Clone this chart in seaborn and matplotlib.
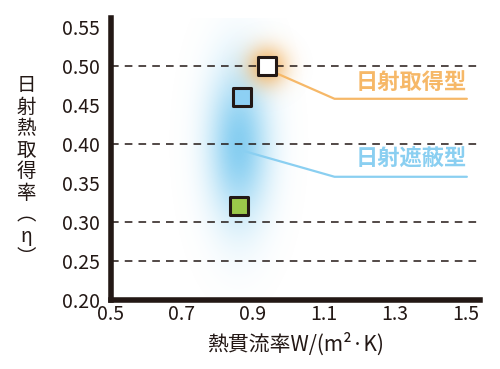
import numpy as np
import pandas as pd
import matplotlib
matplotlib.use("Agg")
import matplotlib.pyplot as plt
from matplotlib.colors import to_rgb
import seaborn as sns

# data
u_values = [0.94, 0.87, 0.86]
eta_values = [0.50, 0.46, 0.32]
kinds = ["gain_white", "shade_blue", "shade_green"]
face_colors = ["#FFFFFF", "#8DD0F4", "#9BC84A"]
x_ticks = [0.5, 0.7, 0.9, 1.1, 1.3, 1.5]
y_ticks = [0.20, 0.25, 0.30, 0.35, 0.40, 0.45, 0.50, 0.55]
grid_levels = [0.25, 0.30, 0.40, 0.50]

gain_label = "日射取得型"
shade_label = "日射遮蔽型"
gain_leader_x = [0.96, 1.13, 1.503]
gain_leader_y = [0.492, 0.458, 0.458]
shade_leader_x = [0.867, 1.13, 1.503]
shade_leader_y = [0.392, 0.358, 0.358]

INK = "#231815"
ORANGE = "#F6B868"
BLUE = "#8ACFF1"

sns.set_theme(style="white")
plt.rcParams["font.family"] = ["Noto Sans CJK JP", "DejaVu Sans"]

df = pd.DataFrame({"U": u_values, "eta": eta_values, "kind": kinds, "face": face_colors})

fig = plt.figure(figsize=(5, 3.69), dpi=100)
ax = fig.add_axes([0.222, 0.187, 0.738, 0.764])
xlim = (0.5, 1.54)
ylim = (0.2, 0.5615)
ax.set_xlim(*xlim)
ax.set_ylim(*ylim)


def glow(cx, cy, sx, sy, color, peak):
    xs = np.linspace(xlim[0], xlim[1], 400)
    ys = np.linspace(ylim[0], ylim[1], 300)
    X, Y = np.meshgrid(xs, ys)
    a = peak * np.exp(-(((X - cx) / sx) ** 2 + ((Y - cy) / sy) ** 2) / 2)
    img = np.zeros(X.shape + (4,))
    img[..., :3] = to_rgb(color)
    img[..., 3] = a
    ax.imshow(img, extent=(xlim[0], xlim[1], ylim[0], ylim[1]), origin="lower",
              aspect="auto", zorder=0.5, interpolation="bilinear")


glow(0.86, 0.40, 0.06, 0.068, "#72C6EF", 0.85)
glow(0.94, 0.50, 0.04, 0.018, "#F5A94A", 0.8)

for lv in grid_levels:
    ax.axhline(lv, color=INK, lw=1.1, ls=(0, (5, 4)), zorder=1)

ax.plot(gain_leader_x, gain_leader_y, color=ORANGE, lw=1.6, zorder=2)
ax.plot(shade_leader_x, shade_leader_y, color=BLUE, lw=1.6, zorder=2)

for _, row in df.iterrows():
    sns.scatterplot(x=[row["U"]], y=[row["eta"]], color=row["face"],
                    marker="s", s=150, edgecolor=INK, linewidth=2.2,
                    alpha=1, legend=False, ax=ax, zorder=3)

ax.text(1.503, 0.479, gain_label, color=ORANGE, fontsize=16, fontweight="bold",
        ha="right", va="center")
ax.text(1.503, 0.380, shade_label, color=BLUE, fontsize=16, fontweight="bold",
        ha="right", va="center")

ax.set_xticks(x_ticks)
ax.set_xticklabels([f"{v:.1f}" for v in x_ticks])
ax.set_yticks(y_ticks)
ax.set_yticklabels([f"{v:.2f}" for v in y_ticks])
ax.tick_params(axis="both", length=0, labelsize=14, colors=INK)
ax.tick_params(axis="y", pad=8)
ax.tick_params(axis="x", pad=3)

for side in ["top", "right"]:
    ax.spines[side].set_visible(False)
for side in ["left", "bottom"]:
    ax.spines[side].set_color(INK)
    ax.spines[side].set_linewidth(4)

ax.set_xlabel("熱貫流率W/(m²·K)", fontsize=15, color=INK, labelpad=5)
ax.set_ylabel("")
fig.text(0.052, 0.535, "\n".join(["日", "射", "熱", "取", "得", "率", "︵", "η", "︶"]),
         fontsize=14, color=INK, ha="center", va="center", linespacing=1.03)

fig.savefig("out.png", dpi=100)
